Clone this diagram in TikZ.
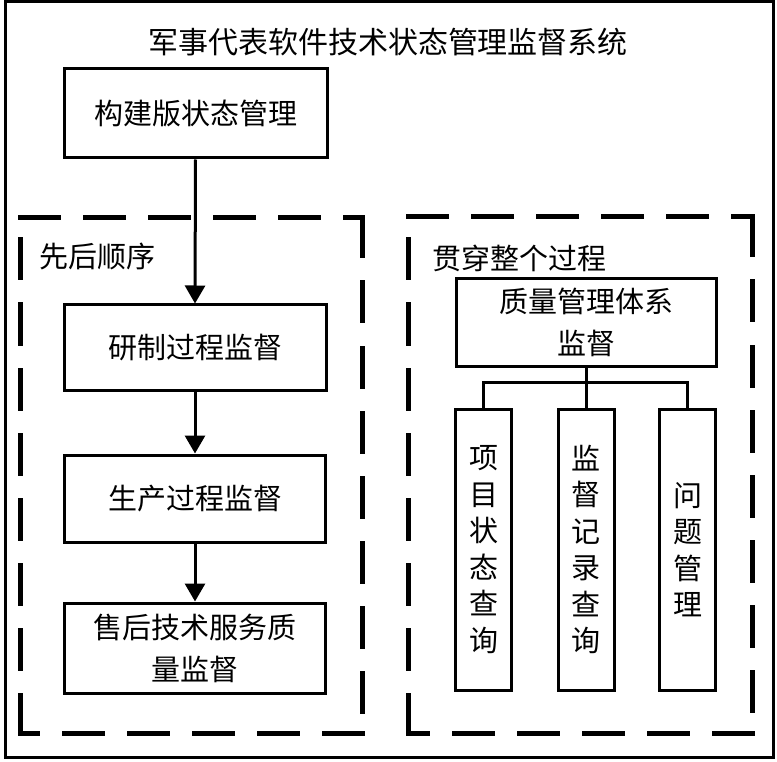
\documentclass[tikz,border=0pt]{standalone}
\usepackage{fontspec}
\setmainfont{Noto Sans CJK SC}
\usetikzlibrary{arrows.meta}
\tikzset{
  box/.style={draw, line width=3pt, inner sep=0pt, align=center, font=\fontsize{29}{42}\selectfont},
  vbox/.style={box, minimum width=56pt, minimum height=281pt, font=\fontsize{29}{36.5}\selectfont},
  conn/.style={line width=3pt},
  arr/.style={line width=3pt, -{Triangle[width=20pt,length=18pt]}},
  dashside/.style={line width=5pt, line cap=rect, dash pattern=on 38pt off 27pt},
  lbl/.style={font=\fontsize{29}{36}\selectfont, inner sep=0pt, anchor=west}
}
\begin{document}
\begin{tikzpicture}[x=1pt,y=-1pt]
\useasboundingbox (0,0) rectangle (777,762);
\fill[white] (0,0) rectangle (777,762);
% outer frame
\draw[line width=3pt] (5,2) rectangle (773,757);
\node[font=\fontsize{30}{36}\selectfont, inner sep=0pt] (title) at (388,42) {军事代表软件技术状态管理监督系统};
% top box
\node[box, minimum width=263pt, minimum height=89pt] (gj) at (195.5,113.5) {构建版状态管理};
% left dashed group
\coordinate (la) at (20,218); \coordinate (lb) at (362,218);
\coordinate (lc) at (362,733); \coordinate (ld) at (20,733);
\draw[dashside] (la) -- (lb); \draw[dashside] (lb) -- (lc);
\draw[dashside] (lc) -- (ld); \draw[dashside] (ld) -- (la);
\node[lbl] (xh) at (39,256) {先后顺序};
\node[box, minimum width=262pt, minimum height=85pt] (yz) at (195,347.5) {研制过程监督};
\node[box, minimum width=261pt, minimum height=87pt] (sc) at (195,498.5) {生产过程监督};
\node[box, minimum width=261pt, minimum height=90pt] (sh) at (195,648) {售后技术服务质\\量监督};
\draw[arr] (gj.south) -- (yz.north);
\draw[arr] (yz.south) -- (sc.north);
\draw[arr] (sc.south) -- (sh.north);
% right dashed group
\coordinate (ra) at (408,217); \coordinate (rb) at (752,217);
\coordinate (rc) at (752,733); \coordinate (rd) at (408,733);
\draw[dashside] (ra) -- (rb); \draw[dashside] (rb) -- (rc);
\draw[dashside] (rc) -- (rd); \draw[dashside] (rd) -- (ra);
\node[lbl] (gc) at (432,258) {贯穿整个过程};
\node[box, minimum width=260pt, minimum height=87pt] (qm) at (586,322.5) {质量管理体系\\监督};
\node[vbox] (v1) at (483.5,549.5) {项\\目\\状\\态\\查\\询};
\node[vbox] (v2) at (586,549.5) {监\\督\\记\\录\\查\\询};
\node[vbox] (v3) at (687.5,549.5) {问\\题\\管\\理};
\coordinate (j) at (586,382);
\draw[conn] (qm.south) -- (j);
\draw[conn] (v1.north) |- (j) -| (v3.north);
\draw[conn] (v2.north) -- (j);
\end{tikzpicture}
\end{document}
